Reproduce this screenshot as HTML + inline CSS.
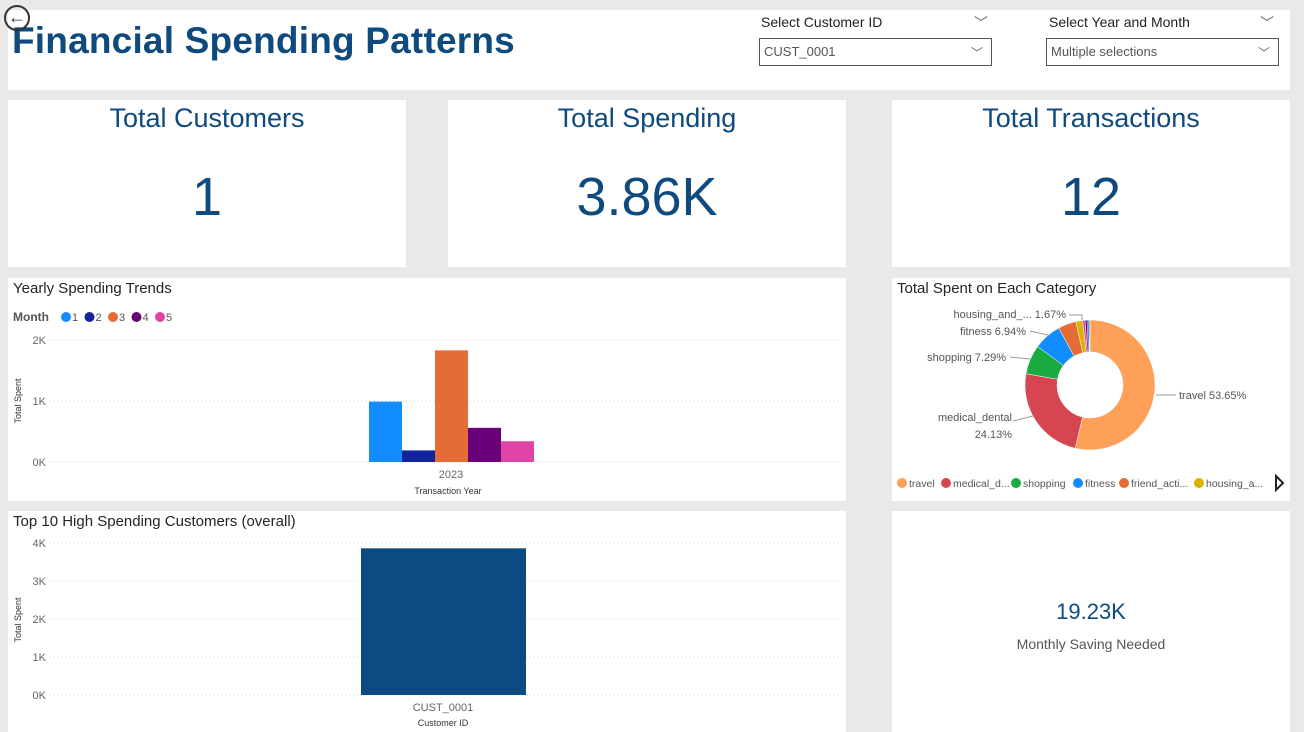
<!DOCTYPE html>
<html><head><meta charset="utf-8"><style>
body{margin:0;width:1304px;height:732px;background:#e9e9e9;font-family:"Liberation Sans","DejaVu Sans",sans-serif;position:relative;overflow:hidden}
.p{position:absolute;background:#fff}
.card-t{position:absolute;left:0;right:0;top:3px;text-align:center;font-size:27px;color:#0e4a7e}
.card-v{position:absolute;left:0;right:0;top:160px;text-align:center;font-size:54px;color:#0e4a7e}
.sl{position:absolute;font-size:14px;color:#222}
.box{position:absolute;border:1px solid #555;background:#fff;font-size:13px;color:#555;padding:0 4px;line-height:26px;box-sizing:border-box;height:28px}
.chev{position:absolute;right:8px;top:1px;color:#666;font-size:12px}
.title{position:absolute;left:5px;top:2px;font-size:15px;color:#252423}
</style></head><body>
<div class="p" style="left:8px;top:10px;width:1282px;height:80px">
  <div style="position:absolute;left:4px;top:10px;font-size:37px;font-weight:bold;color:#0e4a7e;letter-spacing:0.2px">Financial Spending Patterns</div>
  <div class="sl" style="left:753px;top:4px">Select Customer ID</div>
  <div class="sl" style="left:966px;top:3px;color:#666">﹀</div>
  <div class="box" style="left:751px;top:28px;width:233px">CUST_0001<span class="chev">﹀</span></div>
  <div class="sl" style="left:1041px;top:4px">Select Year and Month</div>
  <div class="sl" style="left:1252px;top:3px;color:#666">﹀</div>
  <div class="box" style="left:1038px;top:28px;width:233px">Multiple selections<span class="chev">﹀</span></div>
</div>
<div style="position:absolute;left:4px;top:5px;width:26px;height:26px;border:2px solid #333;border-radius:50%;box-sizing:border-box;text-align:center;font-size:18px;line-height:20px;color:#333">←</div>

<div class="p" style="left:8px;top:100px;width:398px;height:167px"><div class="card-t">Total Customers</div><div class="card-v" style="top:66px">1</div></div>
<div class="p" style="left:448px;top:100px;width:398px;height:167px"><div class="card-t">Total Spending</div><div class="card-v" style="top:66px">3.86K</div></div>
<div class="p" style="left:892px;top:100px;width:398px;height:167px"><div class="card-t">Total Transactions</div><div class="card-v" style="top:66px">12</div></div>

<div class="p" style="left:8px;top:278px;width:838px;height:223px"><div class="title">Yearly Spending Trends</div></div>
<div class="p" style="left:892px;top:278px;width:398px;height:223px"><div class="title">Total Spent on Each Category</div></div>
<div class="p" style="left:8px;top:511px;width:838px;height:221px"><div class="title">Top 10 High Spending Customers (overall)</div></div>
<div class="p" style="left:892px;top:511px;width:398px;height:221px">
  <div style="position:absolute;left:0;right:0;top:88px;text-align:center;font-size:22px;color:#0e4a7e">19.23K</div>
  <div style="position:absolute;left:0;right:0;top:125px;text-align:center;font-size:14px;color:#555">Monthly Saving Needed</div>
</div>

<svg id="s" width="1304" height="732" style="position:absolute;left:0;top:0" font-family="Liberation Sans, sans-serif"></svg>
<script>
const months=["1","2","3","4","5"];
const monthVals=[990,190,1830,560,340];
const monthColors=["#118dff","#12239e","#e66c37","#6b007b","#e044a7"];
const yTicks1=[0,1000,2000];
const yLabels1=["0K","1K","2K"];
const customers=["CUST_0001"];
const custVals=[3860];
const yTicks2=[0,1000,2000,3000,4000];
const yLabels2=["0K","1K","2K","3K","4K"];
const cats=["travel","medical_dental","shopping","fitness","friend_activities","housing_and_utilities","other1","other2","other3","other4"];
const catPct=[53.65,24.13,7.29,6.94,4.5,1.67,0.6,0.5,0.4,0.32];
const catColors=["#ffa058","#d64550","#1aab40","#118dff","#e66c37","#d9b300","#e044a7","#6b007b","#12239e","#4ac5bb"];
const legendNames=["travel","medical_d...","shopping","fitness","friend_acti...","housing_a..."];

const s=document.getElementById('s');const NS="http://www.w3.org/2000/svg";
function el(t,a,txt){const e=document.createElementNS(NS,t);for(const k in a)e.setAttribute(k,a[k]);if(txt!==undefined)e.textContent=txt;s.appendChild(e);return e;}

// chart 1
const y1=v=>462-v/2000*122;
yTicks1.forEach((t,i)=>{
 let g=el('line',{x1:50,x2:842,y1:y1(t),y2:y1(t),stroke:'#ccc','stroke-dasharray':'1 3'});
 
 
 let l=el('text',{x:46,y:y1(t)+4,'text-anchor':'end','font-size':11,fill:'#666'},yLabels1[i]);
 
 
});
const bw=33,bx0=369;
monthVals.forEach((v,i)=>{
 let r=el('rect',{x:bx0+i*bw,y:y1(v),width:bw,height:462-y1(v),fill:monthColors[i]});
 
 
});
let t=el('text',{x:451,y:478,'text-anchor':'middle','font-size':11,fill:'#666'},'2023');

t=el('text',{x:448,y:494,'text-anchor':'middle','font-size':9,fill:'#333'},'Transaction Year');

t=el('text',{x:21,y:401,'text-anchor':'middle','font-size':9,fill:'#333',transform:'rotate(-90 21 401)'},'Total Spent');

t=el('text',{x:13,y:321,'font-size':12,'font-weight':'bold',fill:'#555'},'Month');

months.forEach((m,i)=>{
 let x=66+i*23.5;
 let c=el('circle',{cx:x,cy:317,r:5,fill:monthColors[i]});
 
 let l=el('text',{x:x+6,y:321,'font-size':11,fill:'#555'},m);
 
});

// chart 2
const y2=v=>695-v/4000*152;
yTicks2.forEach((tk,i)=>{
 let g=el('line',{x1:50,x2:842,y1:y2(tk),y2:y2(tk),stroke:'#ccc','stroke-dasharray':'1 3'});
 
 let l=el('text',{x:46,y:y2(tk)+4,'text-anchor':'end','font-size':11,fill:'#666'},yLabels2[i]);
 
});
custVals.forEach((v,i)=>{
 let r=el('rect',{x:361,y:y2(v),width:165,height:695-y2(v),fill:'#0c4a82'});
 
 let l=el('text',{x:443,y:711,'text-anchor':'middle','font-size':11,fill:'#666'},customers[i]);
 
});
t=el('text',{x:443,y:726,'text-anchor':'middle','font-size':9,fill:'#333'},'Customer ID');

t=el('text',{x:21,y:620,'text-anchor':'middle','font-size':9,fill:'#333',transform:'rotate(-90 21 620)'},'Total Spent');


// donut
const cx=1090,cy=385,R=65,r0=33;
const tot=catPct.reduce((a,b)=>a+b,0);let a0=-Math.PI/2;
catPct.forEach((p,i)=>{
 const a1=a0+p/tot*2*Math.PI;const lg=(a1-a0)>Math.PI?1:0;
 const P=(r,a)=>[cx+r*Math.cos(a),cy+r*Math.sin(a)];
 const [x1,yy1]=P(R,a0),[x2,yy2]=P(R,a1),[x3,yy3]=P(r0,a1),[x4,yy4]=P(r0,a0);
 let pa=el('path',{d:`M${x1},${yy1}A${R},${R} 0 ${lg} 1 ${x2},${yy2}L${x3},${yy3}A${r0},${r0} 0 ${lg} 0 ${x4},${yy4}Z`,fill:catColors[i],stroke:'#fff','stroke-width':0.5});
 
 a0=a1;
});
const lbls=[["travel 53.65%",1179,399,'start'],["medical_dental",1012,421,'end'],["24.13%",1012,438,'end'],["shopping 7.29%",1006,361,'end'],["fitness 6.94%",1026,335,'end'],["housing_and_... 1.67%",1066,318,'end']];
lbls.forEach(L=>{let l=el('text',{x:L[1],y:L[2],'text-anchor':L[3],'font-size':11,fill:'#555'},L[0]);
 });
[[1156,395,1176,395],[1013,421,1033,416],[1010,357,1030,359],[1030,331,1048,335],[1069,315,1082,315,1082,320]].forEach(q=>{
 let pl=el('polyline',{points:q.join(' '),fill:'none',stroke:'#999','stroke-width':1});
 });
let lx=897;const lw=[44,70,62,46,75,70];
legendNames.forEach((n,i)=>{
 let c=el('circle',{cx:lx+5,cy:483,r:5,fill:catColors[i]});
 
 let l=el('text',{x:lx+12,y:487,'font-size':10.5,fill:'#555'},n);
 
 lx+=lw[i];
});
let ar=el('path',{d:'M1276,476L1283,483L1276,490Z',fill:'none',stroke:'#222','stroke-width':2});

</script>
</body></html>
